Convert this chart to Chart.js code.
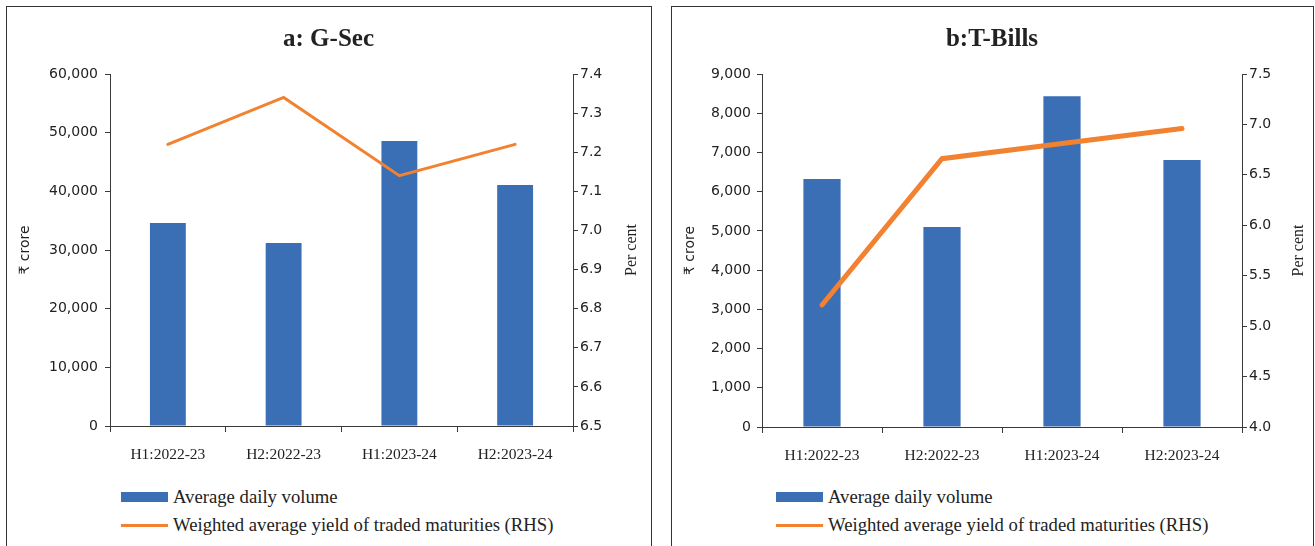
<!DOCTYPE html>
<html>
<head>
<meta charset="utf-8">
<script src="https://cdn.jsdelivr.net/npm/chart.js@4.4.1/dist/chart.umd.min.js"></script>
<style>
  body { margin: 0; width: 1315px; height: 546px; background: #fff; position: relative; overflow: hidden; }
  .panel { position: absolute; top: 6px; height: 560px; border: 1.5px solid #333; box-sizing: border-box; }
  #panelA { left: 6px; width: 646px; }
  #panelB { left: 671px; width: 643px; }
  canvas.chart { position: absolute; top: 8px; }
  .legend { position: absolute; top: 483px; font-family: "Liberation Serif", serif; font-size: 18.7px; color: #222; }
  .legend .item { display: flex; align-items: center; height: 28px; white-space: nowrap; }
  .legend .sw { width: 47px; margin-right: 5px; }
</style>
</head>
<body>
<div class="panel" id="panelA"></div>
<div class="panel" id="panelB"></div>
<canvas class="chart" id="gsecChart" width="641" height="462" style="left:8px"></canvas>
<canvas class="chart" id="tbillChart" width="638" height="462" style="left:673px"></canvas>
<div class="legend" id="gsecLegend" style="left:121px"></div>
<div class="legend" id="tbillLegend" style="left:776px"></div>

<script>
const categories = ["H1:2022-23", "H2:2022-23", "H1:2023-24", "H2:2023-24"];
const seriesNames = ["Average daily volume", "Weighted average yield of traded maturities (RHS)"];

// a: G-Sec
const gsecVolume = [34600, 31200, 48600, 41100];
const gsecYield = [7.22, 7.34, 7.14, 7.22];
const gsecVolumeAxis = [0, 60000, 10000];   // min, max, step
const gsecYieldAxis = [6.5, 7.4, 0.1];

// b: T-Bills
const tbillVolume = [6320, 5100, 8430, 6810];
const tbillYield = [5.21, 6.66, 6.81, 6.96];
const tbillVolumeAxis = [0, 9000, 1000];
const tbillYieldAxis = [4.0, 7.5, 0.5];

const BLUE = "#3A6EB5";
const ORANGE = "#F28130";
const AXIS = "#3a3a3a";
const TEXT = "#222";

// "Per cent" on the right reads bottom-to-top, so draw it ourselves
const rightTitle = {
  id: "rightTitle",
  afterDraw(chart, args, opts) {
    const s = chart.scales.y1;
    const ctx = chart.ctx;
    ctx.save();
    ctx.translate(s.right - opts.offset, (s.top + s.bottom) / 2);
    ctx.rotate(-Math.PI / 2);
    ctx.font = '16px "Liberation Serif"';
    ctx.fillStyle = TEXT;
    ctx.textAlign = "center";
    ctx.textBaseline = "middle";
    ctx.fillText(opts.text, 0, 0);
    ctx.restore();
  }
};

function createChart(canvasId, title, volumes, yields, volAxis, yieldAxis, sizes) {
  const tickFont = { family: "DejaVu Sans", size: 14 };
  new Chart(document.getElementById(canvasId), {
    type: "bar",
    data: {
      labels: categories,
      datasets: [
        {
          type: "line",
          label: seriesNames[1],
          data: yields,
          yAxisID: "y1",
          borderColor: ORANGE,
          backgroundColor: ORANGE,
          borderWidth: sizes.lineWidth,
          borderCapStyle: "round",
          pointRadius: 0,
          tension: 0,
          order: 0
        },
        {
          label: seriesNames[0],
          data: volumes,
          yAxisID: "y",
          backgroundColor: BLUE,
          barPercentage: 0.31,
          categoryPercentage: 1,
          order: 1
        }
      ]
    },
    options: {
      responsive: false,
      animation: false,
      layout: { padding: 0 },
      plugins: {
        legend: { display: false },
        tooltip: { enabled: false },
        title: {
          display: true,
          text: title,
          color: TEXT,
          font: { family: "Liberation Serif", size: 25, weight: "bold" },
          padding: { top: 17, bottom: 19 }
        },
        rightTitle: { text: "Per cent", offset: sizes.rightTitleOffset }
      },
      scales: {
        x: {
          type: "category",
          offset: true,
          grid: { offset: true, drawOnChartArea: false, tickLength: 6, color: AXIS },
          border: { color: AXIS, width: 1 },
          ticks: { color: TEXT, font: { family: "Liberation Serif", size: 15.5 }, padding: 14, maxRotation: 0 },
          afterFit: s => { s.height = sizes.xHeight; }
        },
        y: {
          position: "left",
          min: volAxis[0],
          max: volAxis[1],
          grid: { drawOnChartArea: false, tickLength: 5, color: AXIS },
          border: { color: AXIS, width: 1 },
          ticks: {
            stepSize: volAxis[2],
            color: TEXT,
            font: tickFont,
            padding: sizes.leftPad,
            callback: v => v.toLocaleString("en-US")
          },
          title: {
            display: true,
            text: "₹ crore",
            color: TEXT,
            font: { family: "DejaVu Sans", size: 14 },
            padding: { top: 9, bottom: 0 }
          },
          afterFit: s => { s.width = sizes.leftWidth; }
        },
        y1: {
          position: "right",
          min: yieldAxis[0],
          max: yieldAxis[1],
          grid: { drawOnChartArea: false, tickLength: 5, color: AXIS },
          border: { color: AXIS, width: 1 },
          ticks: {
            stepSize: yieldAxis[2],
            color: TEXT,
            font: tickFont,
            padding: 2,
            callback: v => Number(v).toFixed(1)
          },
          afterFit: s => { s.width = sizes.rightWidth; }
        }
      }
    },
    plugins: [rightTitle]
  });
}

function buildLegend(id) {
  const el = document.getElementById(id);
  const swatches = [
    { color: BLUE, h: 10 },
    { color: ORANGE, h: 3 }
  ];
  seriesNames.forEach((name, i) => {
    const item = document.createElement("div");
    item.className = "item";
    const sw = document.createElement("span");
    sw.className = "sw";
    sw.style.background = swatches[i].color;
    sw.style.height = swatches[i].h + "px";
    const txt = document.createElement("span");
    txt.textContent = name;
    item.appendChild(sw);
    item.appendChild(txt);
    el.appendChild(item);
  });
}

createChart("gsecChart", "a: G-Sec", gsecVolume, gsecYield, gsecVolumeAxis, gsecYieldAxis,
  { leftWidth: 102, rightWidth: 76, xHeight: 44, leftPad: 7, lineWidth: 3, rightTitleOffset: 17 });
createChart("tbillChart", "b:T-Bills", tbillVolume, tbillYield, tbillVolumeAxis, tbillYieldAxis,
  { leftWidth: 89, rightWidth: 69, xHeight: 43, leftPad: 6, lineWidth: 5, rightTitleOffset: 12 });

buildLegend("gsecLegend");
buildLegend("tbillLegend");
</script>
</body>
</html>
